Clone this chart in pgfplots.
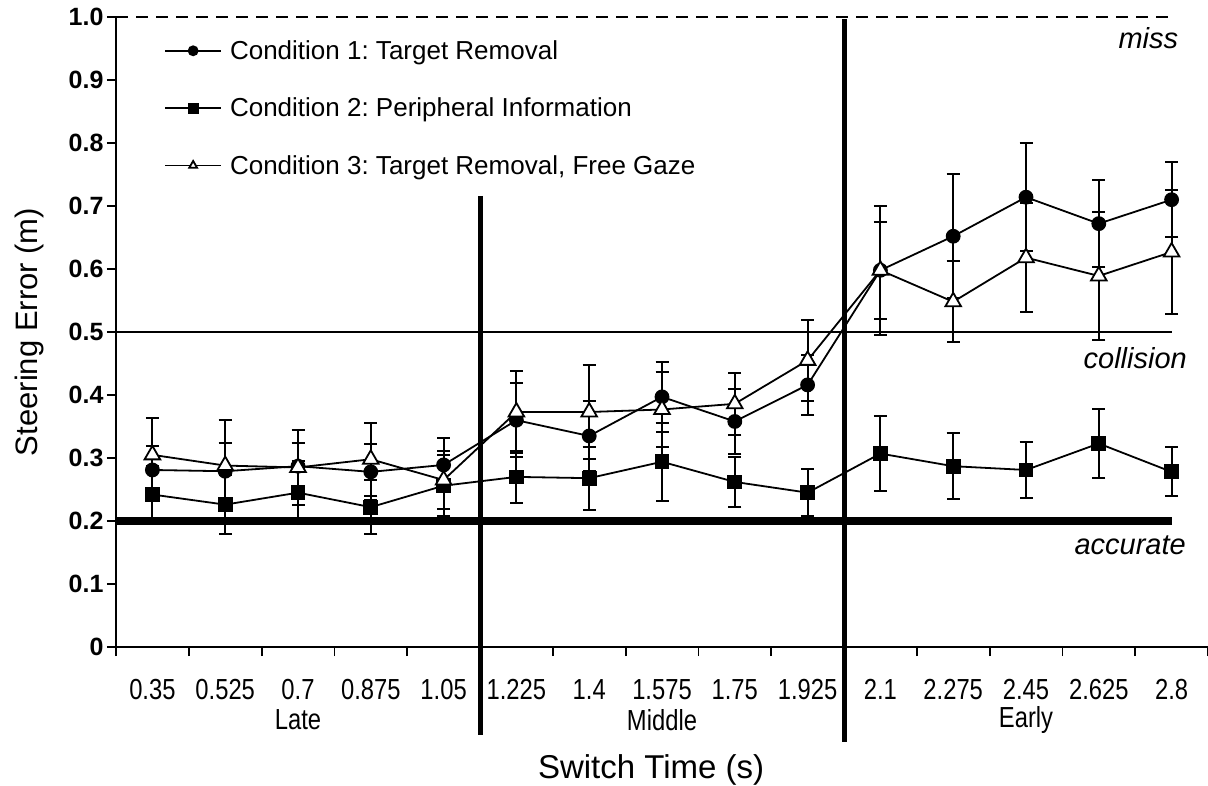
\documentclass[border=0pt]{standalone}
\usepackage{fontspec}
\setmainfont{Liberation Sans}
\newfontfamily\narrowfont[FakeStretch=0.82]{Liberation Sans}
\usepackage{pgfplots}
\usepackage{pgfplotstable}
\pgfplotsset{compat=1.18}
\frenchspacing

% mean and standard error per switch time (index 0..14)
\pgfplotstableread{
x y e
0 0.281 0.038
1 0.279 0.045
2 0.287 0.037
3 0.278 0.044
4 0.289 0.042
5 0.360 0.059
6 0.335 0.055
7 0.397 0.055
8 0.358 0.051
9 0.416 0.048
10 0.598 0.102
11 0.652 0.098
12 0.714 0.086
13 0.672 0.069
14 0.710 0.060
}\condA
\pgfplotstableread{
x y e
0 0.242 0.046
1 0.226 0.047
2 0.245 0.050
3 0.222 0.043
4 0.256 0.048
5 0.270 0.041
6 0.268 0.050
7 0.294 0.062
8 0.262 0.040
9 0.245 0.037
10 0.307 0.060
11 0.287 0.052
12 0.281 0.044
13 0.323 0.055
14 0.278 0.039
}\condB
\pgfplotstableread{
x y e
0 0.305 0.059
1 0.288 0.072
2 0.285 0.060
3 0.298 0.058
4 0.265 0.046
5 0.373 0.065
6 0.373 0.075
7 0.377 0.060
8 0.386 0.049
9 0.455 0.064
10 0.598 0.077
11 0.548 0.064
12 0.618 0.087
13 0.589 0.102
14 0.627 0.099
}\condC

\begin{document}
\begin{tikzpicture}
\begin{axis}[
  scale only axis,
  width=1092pt, height=630pt,
  xmin=-0.5, xmax=14.5,
  ymin=0, ymax=1,
  clip=false,
  axis lines*=left,
  axis line style={-, line width=1.8pt},
  tick align=outside,
  /pgf/number format/assume math mode=true,
  xtick={0,...,14},
  xticklabels={0.35,0.525,0.7,0.875,1.05,1.225,1.4,1.575,1.75,1.925,2.1,2.275,2.45,2.625,2.8},
  minor xtick={-0.5,0.5,...,14.5},
  major x tick style={draw=none},
  minor tick length=9pt,
  major tick length=9pt,
  tick style={line width=1.8pt, black},
  xticklabel style={font=\narrowfont\fontsize{29}{29}\selectfont, yshift=-20pt},
  ytick={0,0.1,0.2,0.3,0.4,0.5,0.6,0.7,0.8,0.9,1.0},
  yticklabels={0,0.1,0.2,0.3,0.4,0.5,0.6,0.7,0.8,0.9,1.0},
  yticklabel style={font=\fontsize{25}{25}\selectfont\bfseries},
  ylabel={Steering Error (m)},
  ylabel style={font=\fontsize{31}{31}\selectfont, at={(axis description cs:-0.079,0.5)}, anchor=center},
  xlabel={Switch Time (s)},
  xlabel style={font=\fontsize{33}{33}\selectfont, at={(axis description cs:0.49,-0.195)}, anchor=center},
  legend style={draw=none, fill=none, at={(axis description cs:0.044,0.966)}, anchor=north west,
    font=\fontsize{26}{26}\selectfont, row sep=33pt, inner sep=0pt, nodes={inner xsep=8pt}},
  legend cell align=left,
  legend image code/.code={\draw[mark repeat=2,mark phase=2,#1] plot coordinates {(0pt,0pt)(28pt,0pt)(56pt,0pt)};},
  legend image post style={mark size=4.5pt},
]
% reference levels
\addplot[black, line width=2.5pt, forget plot] coordinates {(-0.5,0.5) (14,0.5)};
\addplot[black, line width=8pt, forget plot] coordinates {(-0.5,0.2) (14,0.2)};
\addplot[black, line width=2.5pt, dash pattern=on 12pt off 8pt, forget plot] coordinates {(-0.5,1.0) (14,1.0)};
% category separators
\addplot[black, line width=5pt, forget plot] coordinates {(4.5,0.716) (4.5,-0.14)};
\addplot[black, line width=5pt, forget plot] coordinates {(9.5,0.997) (9.5,-0.151)};

\addplot[black, line width=1.8pt, mark=*, mark size=6.5pt, mark options={solid, fill=black},
  error bars/.cd, y dir=both, y explicit,
  error bar style={line width=2pt},
  error mark options={rotate=90, mark size=6.5pt, line width=2pt}]
  table[x=x, y=y, y error=e]{\condA};
\addlegendentry{Condition 1: Target Removal}
\addplot[black, line width=1.8pt, mark=square*, mark size=6.5pt, mark options={solid, fill=black},
  error bars/.cd, y dir=both, y explicit,
  error bar style={line width=2pt},
  error mark options={rotate=90, mark size=6.5pt, line width=2pt}]
  table[x=x, y=y, y error=e]{\condB};
\addlegendentry{Condition 2: Peripheral Information}
\addplot[black, line width=1.8pt, mark=triangle*, mark size=9pt, mark options={solid, fill=white},
  error bars/.cd, y dir=both, y explicit,
  error bar style={line width=2pt},
  error mark options={rotate=90, mark size=6.5pt, line width=2pt}]
  table[x=x, y=y, y error=e]{\condC};
\addlegendentry{Condition 3: Target Removal, Free Gaze}

\node[font=\fontsize{29}{29}\selectfont\itshape] at (axis cs:13.68,0.967) {miss};
\node[font=\fontsize{29}{29}\selectfont\itshape] at (axis cs:13.5,0.459) {collision};
\node[font=\fontsize{29}{29}\selectfont\itshape] at (axis cs:13.43,0.162) {accurate};

\node[font=\narrowfont\fontsize{29}{29}\selectfont] at (axis cs:2,-0.116) {Late};
\node[font=\narrowfont\fontsize{29}{29}\selectfont] at (axis cs:7,-0.116) {Middle};
\node[font=\narrowfont\fontsize{29}{29}\selectfont] at (axis cs:12,-0.116) {Early};
\end{axis}
\pgfresetboundingbox
\useasboundingbox ([shift={(-116pt,-138pt)}]current axis.south west) rectangle ([shift={(0pt,17pt)}]current axis.north east);
\end{tikzpicture}
\end{document}
